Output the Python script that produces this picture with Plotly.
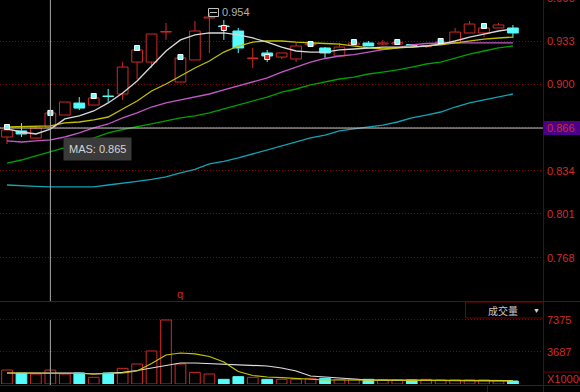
import plotly.graph_objects as go

# ---------------- data ----------------
idx = list(range(36))
opens = [0.8595, 0.8641, 0.8587, 0.8671, 0.8762, 0.8853, 0.8838, 0.8907, 0.8922, 0.9165,
         0.9165, 0.9393, 0.9013, 0.9181, 0.9500, 0.9439, 0.9401, 0.9192, 0.9234, 0.9203,
         0.9188, 0.9295, 0.9272, 0.9211, 0.9295, 0.9310, 0.9302, 0.9302, 0.9298, 0.9282,
         0.9310, 0.9310, 0.9386, 0.9386, 0.9424, 0.9424]
highs = [0.8663, 0.8701, 0.8679, 0.8793, 0.8861, 0.8899, 0.8907, 0.8960, 0.9165, 0.9257,
         0.9378, 0.9462, 0.9203, 0.9477, 0.9540, 0.9485, 0.9424, 0.9272, 0.9257, 0.9234,
         0.9310, 0.9310, 0.9279, 0.9310, 0.9317, 0.9325, 0.9333, 0.9325, 0.9302, 0.9295,
         0.9325, 0.9424, 0.9477, 0.9431, 0.9462, 0.9447]
lows = [0.8542, 0.8595, 0.8580, 0.8671, 0.8762, 0.8800, 0.8838, 0.8861, 0.8876, 0.9036,
        0.9120, 0.9333, 0.9013, 0.9181, 0.9234, 0.9333, 0.9234, 0.9120, 0.9165, 0.9188,
        0.9165, 0.9287, 0.9196, 0.9203, 0.9295, 0.9287, 0.9295, 0.9295, 0.9287, 0.9272,
        0.9302, 0.9310, 0.9386, 0.9355, 0.9424, 0.9348]
closes = [0.8648, 0.8618, 0.8663, 0.8777, 0.8861, 0.8815, 0.8892, 0.8903, 0.9127, 0.9257,
          0.9378, 0.9396, 0.9196, 0.9401, 0.9507, 0.9435, 0.9272, 0.9196, 0.9211, 0.9234,
          0.9287, 0.9302, 0.9234, 0.9279, 0.9310, 0.9287, 0.9310, 0.9313, 0.9290, 0.9287,
          0.9317, 0.9393, 0.9454, 0.9424, 0.9447, 0.9386]

ma5 = [0.8656, 0.8633, 0.8618, 0.8655, 0.8732, 0.8755, 0.8793, 0.8854, 0.8929, 0.9021,
       0.9135, 0.9249, 0.9333, 0.9371, 0.9386, 0.9386, 0.9371, 0.9348, 0.9317, 0.9279,
       0.9249, 0.9241, 0.9241, 0.9257, 0.9264, 0.9272, 0.9279, 0.9279, 0.9279, 0.9287,
       0.9302, 0.9325, 0.9355, 0.9378, 0.9401, 0.9416]
ma10 = [0.8671, 0.8675, 0.8679, 0.8679, 0.8702, 0.8709, 0.8725, 0.8747, 0.8808, 0.8869,
        0.8945, 0.8998, 0.9059, 0.9120, 0.9173, 0.9241, 0.9287, 0.9317, 0.9325, 0.9325,
        0.9317, 0.9310, 0.9306, 0.9302, 0.9287, 0.9272, 0.9264, 0.9272, 0.9279, 0.9287,
        0.9295, 0.9310, 0.9325, 0.9340, 0.9348, 0.9355]
ma20 = [0.8565, 0.8557, 0.8565, 0.8573, 0.8595, 0.8626, 0.8664, 0.8694, 0.8740, 0.8778,
        0.8823, 0.8854, 0.8877, 0.8899, 0.8922, 0.8953, 0.8983, 0.9013, 0.9044, 0.9089,
        0.9127, 0.9165, 0.9192, 0.9211, 0.9222, 0.9241, 0.9260, 0.9272, 0.9295, 0.9306,
        0.9310, 0.9310, 0.9310, 0.9310, 0.9310, 0.9310]
ma30 = [0.8397, 0.8420, 0.8451, 0.8481, 0.8515, 0.8549, 0.8588, 0.8626, 0.8652, 0.8671,
        0.8694, 0.8717, 0.8740, 0.8755, 0.8778, 0.8808, 0.8839, 0.8869, 0.8899, 0.8937,
        0.8960, 0.8991, 0.9013, 0.9036, 0.9051, 0.9074, 0.9089, 0.9105, 0.9127, 0.9150,
        0.9165, 0.9196, 0.9226, 0.9249, 0.9272, 0.9287]
ma60 = [0.8230, 0.8223, 0.8219, 0.8215, 0.8215, 0.8215, 0.8215, 0.8230, 0.8246, 0.8257,
        0.8272, 0.8291, 0.8322, 0.8349, 0.8390, 0.8409, 0.8436, 0.8466, 0.8497, 0.8527,
        0.8557, 0.8588, 0.8610, 0.8641, 0.8656, 0.8671, 0.8686, 0.8709, 0.8740, 0.8762,
        0.8785, 0.8823, 0.8854, 0.8877, 0.8899, 0.8922]

volume = [1613, 1230, 1152, 1613, 1152, 1267, 770, 1267, 1805, 2304,
          3800, 7373, 2304, 1344, 1152, 538, 845, 770, 538, 538,
          538, 653, 653, 538, 538, 538, 461, 461, 461, 538,
          461, 461, 461, 461, 384, 346]
vol_up = [1, 0, 1, 1, 1, 0, 1, 0, 1, 1,
          1, 1, 1, 1, 1, 0, 0, 1, 0, 1,
          1, 1, 0, 1, 1, 0, 1, 1, 0, 1,
          1, 1, 1, 1, 1, 0]
vol_ma5 = [1267, 1267, 1267, 1267, 1267, 1210, 1152, 1210, 1267, 1498,
           2362, 3341, 3571, 3479, 3168, 2534, 1440, 979, 806, 726,
           634, 576, 461, 461, 450, 450, 440, 430, 420, 420,
           410, 400, 400, 390, 380, 370]
vol_ma10 = [1267, 1267, 1267, 1267, 1267, 1267, 1152, 1210, 1348, 1555,
            1843, 2189, 2419, 2419, 2362, 2304, 2246, 2189, 2074, 1843,
            1498, 922, 806, 691, 576, 461, 450, 440, 430, 420,
            415, 410, 400, 395, 390, 380]

marker_idx = [0, 3, 6, 9, 12, 15, 18, 21, 24, 27, 30, 33]
marker_price = [0.8671, 0.8778, 0.8907, 0.9272, 0.9203, 0.9424, 0.9203, 0.9302,
                0.9317, 0.9317, 0.9325, 0.9439]
marker_kind = ["c", "c", "c", "c", "c", "r", "r", "c", "c", "c", "c", "c"]

price_ticks = [0.9655, 0.9325, 0.8996, 0.8665, 0.8338, 0.8010, 0.7675]
price_tick_text = ["0.966", "0.933", "0.900", "0.866", "0.834", "0.801", "0.768"]
vol_ticks = [7375, 3687]
vol_tick_text = ["7375", "3687"]
cross_idx = 3
cross_price = 0.8663
tooltip_text = "MAS: 0.865"
high_label = "0.954"
vol_title = "成交量"
vol_unit = "X10000"
bottom_tab = "指标说明"

# ---------------- layout constants ----------------
W, H = 580, 392
PLOT_RIGHT = 543
MAIN_BOTTOM = 301
VOL_TOP, VOL_BOTTOM = 302, 384
X_RANGE = [-0.484, 37.08]
P_RANGE = [0.73478, 0.96368]
V_RANGE = [0, 9446]

RED = "#d02828"
CYAN = "#54fcfc"
GRID = "#8a0000"
AXIS = "#6e0000"
LABEL = "#d02c2c"
FONT = "Liberation Sans, Arial, sans-serif"
CJK = "Noto Sans CJK SC, sans-serif"


def pxx(x):
    return x / W


def pxy(y):
    return 1 - y / H


def price_py(p):
    return (P_RANGE[1] - p) / (P_RANGE[1] - P_RANGE[0]) * MAIN_BOTTOM


def vol_py(v):
    return VOL_BOTTOM - v / V_RANGE[1] * (VOL_BOTTOM - VOL_TOP)


fig = go.Figure()

up = [i for i in idx if closes[i] >= opens[i]]
dn = [i for i in idx if closes[i] < opens[i]]


def wicks(ids):
    xs, ys = [], []
    for i in ids:
        top = max(opens[i], closes[i])
        bot = min(opens[i], closes[i])
        if highs[i] > top:
            xs += [i, i, None]
            ys += [highs[i], top, None]
        if lows[i] < bot:
            xs += [i, i, None]
            ys += [bot, lows[i], None]
    return xs, ys


MINH = 0.0004
BW = 0.74

wx, wy = wicks(up)
fig.add_trace(go.Scatter(x=wx, y=wy, mode="lines", line=dict(color=RED, width=1),
                         hoverinfo="skip", yaxis="y"))
wx, wy = wicks(dn)
fig.add_trace(go.Scatter(x=wx, y=wy, mode="lines", line=dict(color=CYAN, width=1),
                         hoverinfo="skip", yaxis="y"))

fig.add_trace(go.Bar(x=up, base=[opens[i] for i in up],
                     y=[max(closes[i] - opens[i], MINH) for i in up], width=BW,
                     marker=dict(color="#000000", line=dict(color=RED, width=1)),
                     hoverinfo="skip", yaxis="y"))
fig.add_trace(go.Bar(x=dn, base=[closes[i] for i in dn],
                     y=[max(opens[i] - closes[i], MINH) for i in dn], width=BW,
                     marker=dict(color=CYAN, line=dict(color=CYAN, width=1)),
                     hoverinfo="skip", yaxis="y"))

for vals, col in [(ma60, "#12a4b4"), (ma30, "#00a000"), (ma20, "#c458c8"),
                  (ma10, "#c2c000"), (ma5, "#d8d8d8")]:
    fig.add_trace(go.Scatter(x=idx, y=vals, mode="lines", line=dict(color=col, width=1.3),
                             hoverinfo="skip", yaxis="y"))

for kind, fill in [("c", "#7ff8f8"), ("r", "#e02020")]:
    mi = [marker_idx[k] for k in range(len(marker_idx)) if marker_kind[k] == kind]
    mp = [marker_price[k] for k in range(len(marker_idx)) if marker_kind[k] == kind]
    fig.add_trace(go.Scatter(x=mi, y=mp, mode="markers",
                             marker=dict(symbol="square", size=5, color=fill,
                                         line=dict(color="#ffffff", width=1)),
                             hoverinfo="skip", yaxis="y"))

vu = [i for i in idx if vol_up[i]]
vd = [i for i in idx if not vol_up[i]]
fig.add_trace(go.Bar(x=vu, y=[volume[i] for i in vu], width=BW,
                     marker=dict(color="#000000", line=dict(color=RED, width=1)),
                     hoverinfo="skip", yaxis="y2"))
fig.add_trace(go.Bar(x=vd, y=[volume[i] for i in vd], width=BW,
                     marker=dict(color=CYAN, line=dict(color=CYAN, width=1)),
                     hoverinfo="skip", yaxis="y2"))
fig.add_trace(go.Scatter(x=idx, y=vol_ma10, mode="lines", line=dict(color="#e0e0e0", width=1.2),
                         hoverinfo="skip", yaxis="y2"))
fig.add_trace(go.Scatter(x=idx, y=vol_ma5, mode="lines", line=dict(color="#c8c400", width=1.2),
                         hoverinfo="skip", yaxis="y2"))

shapes = []
shapes.append(dict(type="line", xref="paper", yref="paper", x0=pxx(PLOT_RIGHT + 0.5),
                   x1=pxx(PLOT_RIGHT + 0.5), y0=0, y1=1, line=dict(color=AXIS, width=1)))
for yy in [301.5, 385.5]:
    shapes.append(dict(type="line", xref="paper", yref="paper", x0=0, x1=1,
                       y0=pxy(yy), y1=pxy(yy), line=dict(color="#8a0000", width=1)))
shapes.append(dict(type="line", xref="x", yref="paper", x0=cross_idx, x1=cross_idx,
                   y0=pxy(MAIN_BOTTOM), y1=1, line=dict(color="#a8a8a8", width=1)))
shapes.append(dict(type="line", xref="x", yref="paper", x0=cross_idx, x1=cross_idx,
                   y0=pxy(385), y1=pxy(320), line=dict(color="#a8a8a8", width=1)))
shapes.append(dict(type="line", xref="paper", yref="y", x0=0, x1=pxx(PLOT_RIGHT),
                   y0=cross_price, y1=cross_price, line=dict(color="#d4c4c4", width=1)))
cpy = price_py(cross_price)
shapes.append(dict(type="rect", xref="paper", yref="paper", x0=pxx(544), x1=1,
                   y0=pxy(cpy + 7), y1=pxy(cpy - 7), fillcolor="#4c0088",
                   line=dict(width=0)))
shapes.append(dict(type="rect", xref="paper", yref="paper", x0=pxx(465.5), x1=pxx(543.5),
                   y0=pxy(318), y1=pxy(302), line=dict(color="#7a0000", width=1)))
shapes.append(dict(type="rect", xref="paper", yref="paper", x0=pxx(543.5), x1=pxx(582),
                   y0=pxy(385.5), y1=pxy(372), line=dict(color="#7a0000", width=1)))
shapes.append(dict(type="line", xref="paper", yref="paper", x0=pxx(487.5), x1=pxx(487.5),
                   y0=pxy(393), y1=pxy(385.5), line=dict(color="#7a0000", width=1)))
shapes.append(dict(type="rect", xref="paper", yref="paper", x0=pxx(208.5), x1=pxx(218.5),
                   y0=pxy(16.5), y1=pxy(8.5), line=dict(color="#c0c0c0", width=1)))
shapes.append(dict(type="line", xref="paper", yref="paper", x0=pxx(210), x1=pxx(217),
                   y0=pxy(12.5), y1=pxy(12.5), line=dict(color="#c0c0c0", width=1)))

ann = []
for v, t in zip(price_ticks, price_tick_text):
    ann.append(dict(xref="paper", yref="paper", x=pxx(545), y=pxy(price_py(v)),
                    xanchor="left", yanchor="middle", text=t, showarrow=False,
                    font=dict(family=FONT, size=11, color=LABEL)))
for v, t in zip(vol_ticks, vol_tick_text):
    ann.append(dict(xref="paper", yref="paper", x=pxx(545), y=pxy(vol_py(v)),
                    xanchor="left", yanchor="middle", text=t, showarrow=False,
                    font=dict(family=FONT, size=11, color=LABEL)))
ann.append(dict(xref="paper", yref="paper", x=pxx(545), y=pxy(379), xanchor="left",
                yanchor="middle", text=vol_unit, showarrow=False,
                font=dict(family=FONT, size=11, color=LABEL)))
ann.append(dict(xref="paper", yref="paper", x=pxx(97.5), y=pxy(149), xanchor="center",
                yanchor="middle", text=tooltip_text, showarrow=False, bgcolor="#3a3a3a",
                borderpad=5, font=dict(family=FONT, size=11, color="#d4d4d4")))
ann.append(dict(xref="paper", yref="paper", x=pxx(220), y=pxy(12), xanchor="left",
                yanchor="middle", text=high_label, showarrow=False,
                font=dict(family=FONT, size=11, color="#b0b0b0")))
ann.append(dict(xref="paper", yref="paper", x=pxx(180), y=pxy(294), xanchor="center",
                yanchor="middle", text="q", showarrow=False,
                font=dict(family=FONT, size=11, color="#d82020")))
ann.append(dict(xref="paper", yref="paper", x=pxx(503), y=pxy(310.5), xanchor="center",
                yanchor="middle", text=vol_title, showarrow=False,
                font=dict(family=CJK, size=10, color="#c8c8c8")))
ann.append(dict(xref="paper", yref="paper", x=pxx(536), y=pxy(310), xanchor="center",
                yanchor="middle", text="▼", showarrow=False,
                font=dict(family=FONT, size=7, color="#d8d8d8")))
ann.append(dict(xref="paper", yref="paper", x=pxx(493), y=pxy(387.5), xanchor="left",
                yanchor="top", text=bottom_tab, showarrow=False,
                font=dict(family=CJK, size=10, color="#d0d0d0")))

fig.update_layout(
    width=W, height=H, margin=dict(l=0, r=0, t=0, b=0),
    paper_bgcolor="#000000", plot_bgcolor="#000000",
    showlegend=False, barmode="overlay", hovermode=False,
    xaxis=dict(domain=[0, pxx(PLOT_RIGHT)], range=X_RANGE, showgrid=False, zeroline=False,
               showticklabels=False, ticks="", showline=False, anchor="y2", fixedrange=True),
    yaxis=dict(domain=[pxy(MAIN_BOTTOM), 1], range=P_RANGE, tickvals=price_ticks[1:],
               showticklabels=False, ticks="", showgrid=True, gridcolor=GRID,
               griddash="1px,2px", gridwidth=1, zeroline=False, showline=False,
               anchor="x", fixedrange=True),
    yaxis2=dict(domain=[pxy(VOL_BOTTOM), pxy(VOL_TOP)], range=V_RANGE, tickvals=vol_ticks,
                showticklabels=False, ticks="", showgrid=True, gridcolor=GRID,
                griddash="1px,2px", gridwidth=1, zeroline=False, showline=False,
                anchor="x", fixedrange=True),
    shapes=shapes, annotations=ann,
)

fig.write_html("out.html")
